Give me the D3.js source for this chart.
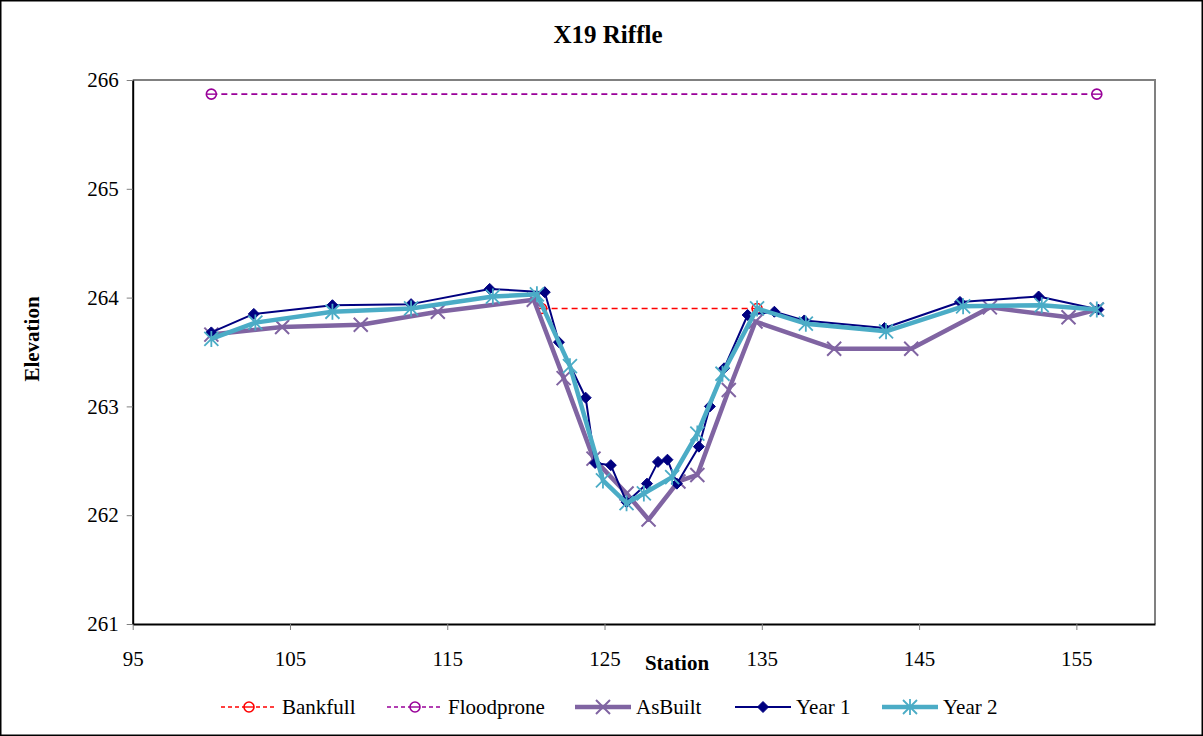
<!DOCTYPE html>
<html>
<head>
<meta charset="utf-8">
<script src="https://cdn.jsdelivr.net/npm/d3@7"></script>
<style>
  html, body { margin: 0; padding: 0; background: #fff; }
  svg { display: block; }
  text { font-family: "Liberation Serif", "Times New Roman", serif; }
</style>
</head>
<body>
<svg id="chart" width="1203" height="736"></svg>
<script>
// Cross-section survey, X19 Riffle
const xTicks = [95, 105, 115, 125, 135, 145, 155];
const yTicks = [261, 262, 263, 264, 265, 266];

const bankfullStation = [121.0, 134.7];
const bankfullElev = [263.9, 263.9];

const floodproneStation = [100, 156.3];
const floodproneElev = [265.87, 265.87];

const asBuiltStation = [100, 104.5, 109.5, 114.4, 120.5, 122.4, 124.3, 126.4, 127.8, 129.7, 130.9, 132.9, 134.6, 139.6, 144.5, 149.5, 154.5, 156.3];
const asBuiltElev = [263.66, 263.73, 263.75, 263.87, 263.98, 263.26, 262.52, 262.2, 261.96, 262.31, 262.37, 263.15, 263.78, 263.53, 263.53, 263.91, 263.82, 263.89];

const year1Station = [100, 102.7, 107.7, 112.7, 117.7, 121.2, 122.1, 123.8, 124.4, 125.4, 126.4, 127.7, 128.4, 129.0, 129.6, 131.0, 131.7, 132.6, 134.1, 135.8, 137.7, 142.8, 147.6, 152.6, 156.4];
const year1Elev = [263.68, 263.85, 263.93, 263.94, 264.08, 264.05, 263.59, 263.08, 262.48, 262.46, 262.12, 262.29, 262.49, 262.51, 262.29, 262.63, 263.0, 263.35, 263.84, 263.87, 263.79, 263.72, 263.96, 264.01, 263.89];

const year2Station = [100, 102.8, 107.7, 112.7, 117.9, 120.7, 122.8, 124.9, 126.4, 127.5, 129.3, 130.9, 132.5, 134.7, 137.8, 142.9, 147.8, 152.8, 156.3];
const year2Elev = [263.62, 263.77, 263.87, 263.9, 264.01, 264.03, 263.37, 262.32, 262.11, 262.2, 262.35, 262.75, 263.3, 263.9, 263.76, 263.69, 263.92, 263.93, 263.89];

const zip = (xs, ys) => xs.map((x, i) => ({ x, y: ys[i] }));

const series = [
  { name: "Bankfull",   data: zip(bankfullStation, bankfullElev),     color: "#FF0000", width: 1.6, dash: "6,4", marker: "circle" },
  { name: "Floodprone", data: zip(floodproneStation, floodproneElev), color: "#990099", width: 1.6, dash: "6,4", marker: "circle" },
  { name: "AsBuilt",    data: zip(asBuiltStation, asBuiltElev),       color: "#8064A2", width: 4.5, dash: null,  marker: "x" },
  { name: "Year 1",     data: zip(year1Station, year1Elev),           color: "#000080", width: 2,   dash: null,  marker: "diamond" },
  { name: "Year 2",     data: zip(year2Station, year2Elev),           color: "#4BACC6", width: 4.5, dash: null,  marker: "asterisk" }
];

const svg = d3.select("#chart");
const W = 1203, H = 736;
const plot = { left: 132.7, right: 1155, top: 80, bottom: 624 };

const x = d3.scaleLinear().domain([95, 160]).range([plot.left, plot.right]);
const y = d3.scaleLinear().domain([261, 266]).range([plot.bottom, plot.top]);

// outer frame
svg.append("rect").attr("x", 0.75).attr("y", 0.75).attr("width", W - 1.5).attr("height", H - 1.5)
  .attr("fill", "#fff").attr("stroke", "#000").attr("stroke-width", 1.5);

// plot frame: top/right gray
svg.append("path")
  .attr("d", `M${plot.left},${plot.top}H${plot.right}V${plot.bottom}`)
  .attr("fill", "none").attr("stroke", "#808080").attr("stroke-width", 2);

// axes
const xAxis = d3.axisBottom(x).tickValues(xTicks).tickSize(6).tickSizeOuter(0).tickPadding(21).tickFormat(d3.format("d"));
const yAxis = d3.axisLeft(y).tickValues(yTicks).tickSize(6).tickSizeOuter(0).tickPadding(8).tickFormat(d3.format("d"));

const gx = svg.append("g").attr("transform", `translate(0,${plot.bottom})`).call(xAxis);
const gy = svg.append("g").attr("transform", `translate(${plot.left},0)`).call(yAxis);
[gx, gy].forEach(g => {
  g.select(".domain").attr("stroke", "#000").attr("stroke-width", 2);
  g.selectAll(".tick line").attr("stroke", "#808080").attr("stroke-width", 1);
  g.selectAll(".tick text").attr("fill", "#000").style("font-size", "21px")
    .style("font-family", "'Liberation Serif', 'Times New Roman', serif");
});
gx.selectAll(".tick text").attr("dy", "0.71em");

// titles
svg.append("text").attr("x", 608).attr("y", 43).attr("text-anchor", "middle")
  .style("font-size", "25px").style("font-weight", "bold").text("X19 Riffle");
svg.append("text").attr("x", 677).attr("y", 670).attr("text-anchor", "middle")
  .style("font-size", "21px").style("font-weight", "bold").text("Station");
svg.append("text").attr("transform", "translate(39,339) rotate(-90)").attr("text-anchor", "middle")
  .style("font-size", "21px").style("font-weight", "bold").text("Elevation");

// markers
function drawMarker(g, type, color, cx, cy) {
  if (type === "circle") {
    g.append("circle").attr("cx", cx).attr("cy", cy).attr("r", 5)
      .attr("fill", "#fff").attr("stroke", color).attr("stroke-width", 1.6);
    g.append("line").attr("x1", cx - 5).attr("x2", cx + 5).attr("y1", cy).attr("y2", cy)
      .attr("stroke", color).attr("stroke-width", 1.4);
  } else if (type === "x") {
    const s = 7;
    g.append("path").attr("d", `M${cx - s},${cy - s}L${cx + s},${cy + s}M${cx - s},${cy + s}L${cx + s},${cy - s}`)
      .attr("stroke", color).attr("stroke-width", 2).attr("fill", "none");
  } else if (type === "diamond") {
    const s = 5.5;
    g.append("path").attr("d", `M${cx},${cy - s}L${cx + s},${cy}L${cx},${cy + s}L${cx - s},${cy}Z`)
      .attr("fill", color).attr("stroke", color).attr("stroke-width", 1);
  } else if (type === "asterisk") {
    const s = 7;
    g.append("path").attr("d", `M${cx - s},${cy - s}L${cx + s},${cy + s}M${cx - s},${cy + s}L${cx + s},${cy - s}M${cx},${cy - s - 1}L${cx},${cy + s + 1}`)
      .attr("stroke", color).attr("stroke-width", 1.8).attr("fill", "none");
  }
}

const line = d3.line().x(d => x(d.x)).y(d => y(d.y));

series.forEach(s => {
  const g = svg.append("g");
  g.append("path").datum(s.data).attr("d", line)
    .attr("fill", "none").attr("stroke", s.color).attr("stroke-width", s.width)
    .attr("stroke-linejoin", "round")
    .attr("stroke-dasharray", s.dash);
  s.data.forEach(d => drawMarker(g, s.marker, s.color, x(d.x), y(d.y)));
});

// legend
const legendItems = [
  { name: "Bankfull",   x0: 221 },
  { name: "Floodprone", x0: 387 },
  { name: "AsBuilt",    x0: 575 },
  { name: "Year 1",     x0: 735 },
  { name: "Year 2",     x0: 882 }
];
const ly = 707;
legendItems.forEach(item => {
  const s = series.find(d => d.name === item.name);
  const g = svg.append("g");
  const x0 = item.x0, x1 = item.x0 + 56;
  g.append("line").attr("x1", x0).attr("x2", x1).attr("y1", ly).attr("y2", ly)
    .attr("stroke", s.color).attr("stroke-width", s.width)
    .attr("stroke-dasharray", s.dash ? "4,3" : null);
  drawMarker(g, s.marker, s.color, (x0 + x1) / 2, ly);
  g.append("text").attr("x", x1 + 5).attr("y", ly).attr("dy", "0.35em")
    .style("font-size", "21px").text(s.name);
});
</script>
</body>
</html>
